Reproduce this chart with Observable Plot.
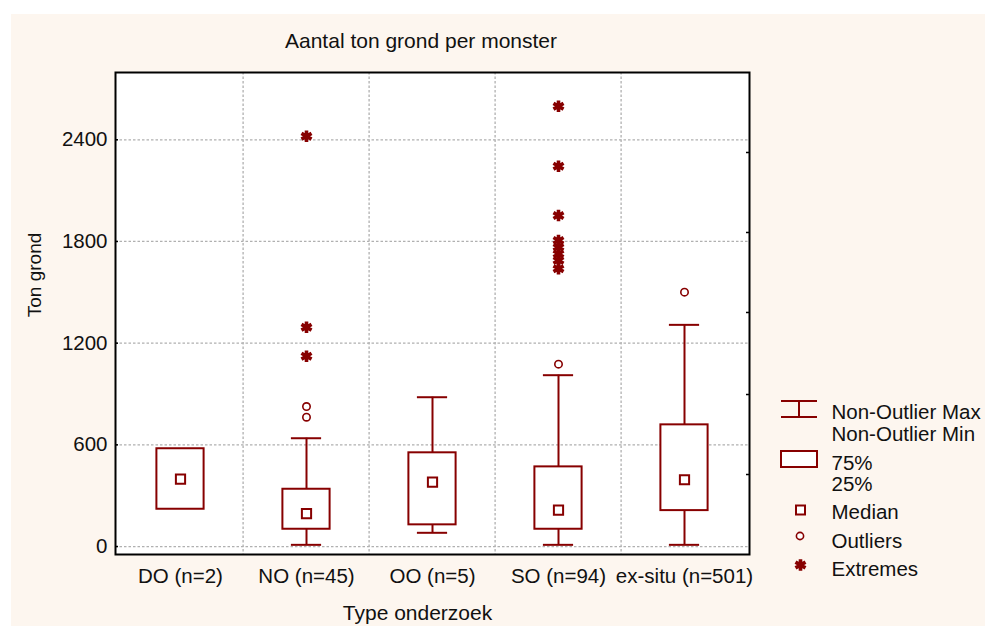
<!DOCTYPE html>
<html>
<head>
<meta charset="utf-8">
<script src="https://cdn.jsdelivr.net/npm/d3@7"></script>
<script src="https://cdn.jsdelivr.net/npm/@observablehq/plot@0.6"></script>
<style>
  html, body { margin: 0; padding: 0; background: #fdf6ef; overflow: hidden; }
  #wtop { position: absolute; left: 0; top: 0; width: 100vw; height: 14px; background: #ffffff; }
  #wleft { position: absolute; left: 0; top: 0; width: 11px; height: 100vh; background: #ffffff; }
  #chart, #legend { position: absolute; left: 0; top: 0; }
</style>
</head>
<body>
<div id="wtop"></div>
<div id="wleft"></div>
<div id="chart"></div>
<svg id="legend" width="985" height="626"></svg>
<script>
// ---- data ----
const categories = ["DO (n=2)", "NO (n=45)", "OO (n=5)", "SO (n=94)", "ex-situ (n=501)"];
const q1 = [220, 102, 128, 102, 212];
const q3 = [577, 338, 553, 470, 718];
const medians = [398, 194, 380, 215, 394];
const whiskerMin = [null, 10, 81, 10, 10];
const whiskerMax = [null, 639, 881, 1011, 1308];
const outlierCat = ["NO (n=45)", "NO (n=45)", "SO (n=94)", "ex-situ (n=501)"];
const outlierVal = [826, 763, 1076, 1501];
const extremeCat = ["NO (n=45)", "NO (n=45)", "NO (n=45)",
  "SO (n=94)", "SO (n=94)", "SO (n=94)", "SO (n=94)", "SO (n=94)", "SO (n=94)", "SO (n=94)", "SO (n=94)"];
const extremeVal = [2421, 1294, 1123, 2598, 2244, 1953, 1806, 1766, 1727, 1688, 1639];
const yTicks = [0, 600, 1200, 1800, 2400];
const rightTicks = [425, 897, 1381, 1853, 2325];
const legendLabels = ["Non-Outlier Max", "Non-Outlier Min", "75%", "25%", "Median", "Outliers", "Extremes"];
const title = "Aantal ton grond per monster";
const xTitle = "Type onderzoek";
const yTitle = "Ton grond";

// ---- tables ----
const boxes = categories.map((c, i) => ({cat: c, q1: q1[i], q3: q3[i], med: medians[i], lo: whiskerMin[i], hi: whiskerMax[i]}));
const whiskers = boxes.filter(d => d.lo != null);
const caps = whiskers.flatMap(d => [{cat: d.cat, v: d.lo}, {cat: d.cat, v: d.hi}]);
const outliers = outlierCat.map((c, i) => ({cat: c, v: outlierVal[i]}));
const extremes = extremeCat.map((c, i) => ({cat: c, v: extremeVal[i]}));

const RED = "#870000";
const FONT = "'Liberation Sans', Arial, Helvetica, sans-serif";
const bandW = 634 / categories.length;

const chart = Plot.plot({
  width: 985,
  height: 626,
  marginLeft: 115,
  marginRight: 236,
  marginTop: 72,
  marginBottom: 72,
  style: {background: "transparent", fontFamily: FONT, fontSize: "20.5px", color: "#111"},
  x: {domain: categories, padding: 0, label: null, tickSize: 0, tickPadding: 14},
  y: {domain: [-47, 2797], ticks: yTicks, tickFormat: d => String(d), label: null, tickSize: 0, tickPadding: 8},
  marks: [
    Plot.frame({fill: "white", stroke: "none"}),
    Plot.ruleY(yTicks, {stroke: "#b0b0b0", strokeWidth: 1.3, strokeDasharray: "2.5,2"}),
    Plot.ruleX(categories.slice(1), {dx: -bandW / 2, stroke: "#b0b0b0", strokeWidth: 1.3, strokeDasharray: "2.5,2"}),
    Plot.tickY(yTicks, {insetRight: 631, stroke: "black", strokeWidth: 1.5}),
    Plot.tickY(rightTicks, {insetLeft: 631, stroke: "black", strokeWidth: 1.5}),
    Plot.ruleX(whiskers, {x: "cat", y1: "lo", y2: "hi", stroke: RED, strokeWidth: 2}),
    Plot.tickY(caps, {x: "cat", y: "v", stroke: RED, strokeWidth: 2, insetLeft: (bandW - 31) / 2, insetRight: (bandW - 31) / 2}),
    Plot.barY(boxes, {x: "cat", y1: "q1", y2: "q3", fill: "white", stroke: RED, strokeWidth: 2,
      insetLeft: (bandW - 48) / 2, insetRight: (bandW - 48) / 2}),
    Plot.dot(boxes, {x: "cat", y: "med", symbol: "square", r: 5.2, fill: "white", stroke: RED, strokeWidth: 2}),
    Plot.dot(outliers, {x: "cat", y: "v", r: 3.7, fill: "white", stroke: RED, strokeWidth: 1.6}),
    Plot.dot(extremes, {x: "cat", y: "v", symbol: "asterisk", r: 5.5, stroke: RED, strokeWidth: 3.6}),
    Plot.frame({stroke: "black", strokeWidth: 2}),
    Plot.text([title], {text: d => d, frameAnchor: "top", dx: -11.5, dy: -24.3, lineAnchor: "bottom", fontSize: 21, fill: "#111"}),
    Plot.text([xTitle], {text: d => d, frameAnchor: "bottom", dx: -15, dy: 65.3, lineAnchor: "bottom", fontSize: 21, fill: "#111"}),
    Plot.text([yTitle], {text: d => d, frameAnchor: "left", rotate: -90, dx: -81, dy: 3.7, fontSize: 19, fill: "#111"})
  ]
});
document.getElementById("chart").appendChild(chart);

// ---- legend ----
const lg = d3.select("#legend");
const sym = lg.append("g").attr("stroke", RED).attr("stroke-width", 2).attr("fill", "white");
sym.append("line").attr("x1", 781).attr("x2", 817).attr("y1", 401).attr("y2", 401);
sym.append("line").attr("x1", 781).attr("x2", 817).attr("y1", 417).attr("y2", 417);
sym.append("line").attr("x1", 799).attr("x2", 799).attr("y1", 401).attr("y2", 417);
sym.append("rect").attr("x", 781).attr("y", 451).attr("width", 36).attr("height", 16);
sym.append("rect").attr("x", 796).attr("y", 505.5).attr("width", 9).attr("height", 9);
sym.append("circle").attr("cx", 800).attr("cy", 536).attr("r", 3.6).attr("stroke-width", 1.6);
sym.append("path").attr("d", d3.symbol(d3.symbolAsterisk, Math.PI * 30)()).attr("transform", "translate(800.5,565)").attr("stroke-width", 3.6);
const baselines = [419, 441, 470, 491, 519, 548, 576];
lg.append("g").attr("font-family", FONT).attr("font-size", 20.5).attr("fill", "#111")
  .selectAll("text").data(legendLabels).join("text")
  .attr("x", 831.5).attr("y", (d, i) => baselines[i]).text(d => d);
</script>
</body>
</html>
